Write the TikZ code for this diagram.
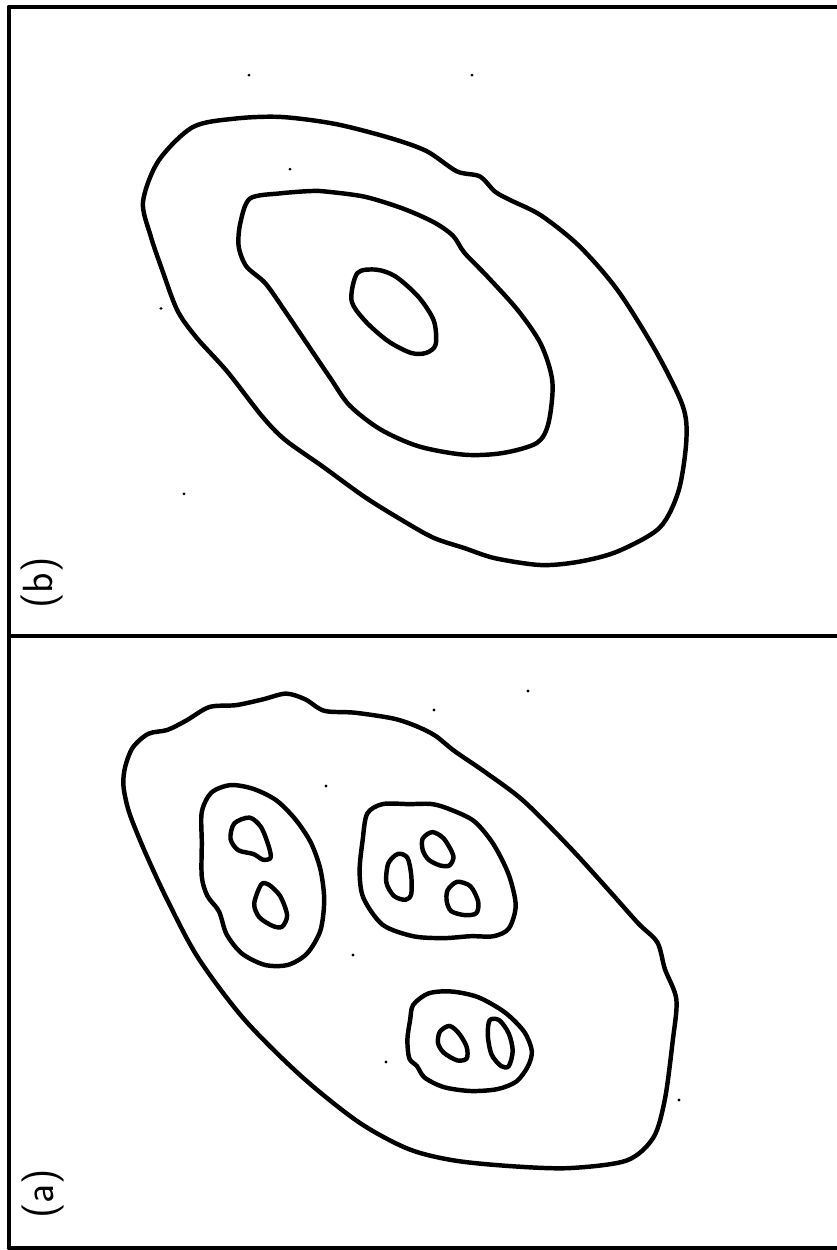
\documentclass[tikz,border=0pt]{standalone}
\begin{document}
\begin{tikzpicture}[x=0.03cm, y=-0.03cm,
    frameline/.style={line width=4.2pt, line join=round},
    contour/.style={line width=3.8pt, line join=round},
    speck/.style={fill=black},
    panellabel/.style={rotate=90, font=\fontsize{36}{36}\selectfont\sffamily}]

  \useasboundingbox (0,0) rectangle (837,1250);

  % ---- Frame and divider ----
  \draw[frameline] (837,7) -- (9,7) -- (9,1248) -- (837,1248);
  \draw[frameline] (9,636) -- (837,636);

  % ---- Panel labels ----
  \node[panellabel] (lblb) at (42,583) {(b)};
  \node[panellabel] (lbla) at (43,1194) {(a)};

  % ==== Panel (b) ====
  \begin{scope}[shift={(0,100)}, yscale=0.887, shift={(0,-100)}]
  % outer contour
  \draw[contour] plot[smooth cycle] coordinates {
    (143.0,214.8) (158.3,168.9) (192.7,130.6) (234.8,121.0) (280.7,119.1)
    (334.3,126.8) (387.9,142.1) (426.2,157.4) (456.8,180.4) (479.7,186.1)
    (495.0,203.3) (510.4,212.9) (541.0,230.1) (579.2,264.6) (617.5,314.3)
    (655.8,383.2) (682.6,444.4) (686.4,482.7) (678.7,540.1) (659.6,582.2)
    (617.5,609.0) (579.2,620.5) (541.0,624.3) (495.0,616.6) (464.4,605.2)
    (433.8,593.7) (403.2,574.5) (364.9,547.7) (322.8,513.3) (284.6,482.7)
    (261.6,455.9) (227.2,406.1) (196.5,367.9) (177.4,337.3) (162.1,291.3)
    (150.6,253.1)};

  % middle contour
  \draw[contour] plot[smooth cycle] coordinates {
    (250.1,211.0) (280.7,205.2) (311.4,202.6) (326.7,203.3) (364.9,209.1)
    (403.2,222.5) (433.8,237.8) (453.0,253.1) (464.4,272.2) (487.4,299.0)
    (518.0,337.3) (541.0,375.5) (552.4,417.6) (548.6,463.6) (537.1,486.5)
    (502.7,498.0) (464.4,499.9) (418.5,490.4) (380.2,471.2) (349.6,444.4)
    (330.5,413.8) (307.5,375.5) (284.6,337.3) (265.4,306.7) (246.3,287.5)
    (238.6,264.6) (240.5,237.8)};

  % inner contour
  \draw[contour] plot[smooth cycle] coordinates {
    (357.3,295.2) (376.4,291.3) (395.6,299.0) (418.5,322.0) (433.8,348.8)
    (435.7,375.5) (426.2,385.1) (410.9,385.1) (387.9,371.7) (364.9,348.8)
    (351.5,325.8)};

  % specks
  \foreach \p in {(249,72),(472,72),(290,178),(161,335),(184,544)}
    \fill[speck] \p circle (1.6);
  \end{scope}

  % ==== Panel (a) ====
  % outer contour
  \draw[contour] plot[smooth cycle] coordinates {
    (133.0,747.2) (148.3,733.8) (167.4,729.9) (186.5,720.4) (209.5,707.0)
    (236.3,705.1) (263.1,699.3) (286.0,693.6) (305.2,699.3) (324.3,710.8)
    (354.9,712.7) (393.2,718.5) (416.2,726.1) (435.3,735.7) (454.4,751.0)
    (485.0,772.0) (523.3,800.7) (569.2,846.7) (607.5,888.8) (638.1,923.2)
    (657.3,942.3) (664.9,969.1) (676.4,999.7) (672.6,1041.8) (664.9,1099.2)
    (653.4,1137.5) (626.6,1160.5) (569.2,1168.1) (511.8,1166.2) (454.4,1160.5)
    (408.5,1149.0) (358.8,1122.2) (301.4,1076.3) (243.9,1018.9) (198.0,957.6)
    (167.4,900.2) (144.4,850.5) (129.1,812.2) (123.4,785.4) (125.3,766.3)};

  % left island
  \begin{scope}[shift={(-2,-8)}]
  \draw[contour] plot[smooth cycle] coordinates {
    (213.3,800.7) (232.5,793.1) (255.4,796.9) (278.4,808.4) (297.5,827.5)
    (312.8,850.5) (322.4,877.3) (326.2,907.9) (322.4,938.5) (309.0,961.5)
    (289.9,972.9) (266.9,972.9) (243.9,961.5) (228.6,942.3) (221.0,919.4)
    (209.5,904.1) (203.8,884.9) (203.8,850.5) (203.8,819.9)};
  \draw[contour] plot[smooth cycle] coordinates {
    (236.3,831.4) (251.6,825.6) (263.1,835.2) (270.7,854.3) (272.6,865.8)
    (265.0,867.7) (255.4,862.0) (240.1,858.1) (232.5,846.7)};
  \draw[contour] plot[smooth cycle] coordinates {
    (263.1,892.6) (270.7,892.6) (282.2,904.1) (289.1,923.2) (284.1,934.7)
    (274.6,933.9) (261.2,925.1) (256.2,911.7)};
  \end{scope}

  % middle island
  \begin{scope}[shift={(-3,-10)}]
  \draw[contour] plot[smooth cycle] coordinates {
    (370.2,823.7) (385.6,814.1) (412.3,814.1) (435.3,814.1) (454.4,819.9)
    (477.4,831.4) (496.5,854.3) (511.8,884.9) (518.7,915.5) (511.8,938.5)
    (496.5,946.2) (473.6,946.2) (446.8,948.1) (416.2,946.2) (385.6,934.7)
    (366.4,907.9) (362.6,881.1) (365.6,850.5)};
  \draw[contour] plot[smooth cycle] coordinates {
    (391.3,873.4) (400.9,863.9) (410.4,867.7) (414.2,884.9) (414.2,904.1)
    (408.5,909.8) (397.0,906.0) (389.4,892.6)};
  \draw[contour] plot[smooth cycle] coordinates {
    (425.7,848.6) (435.3,842.1) (446.8,848.6) (456.3,865.8) (452.5,875.4)
    (442.9,875.4) (431.5,869.6) (425.7,860.0)};
  \draw[contour] plot[smooth cycle] coordinates {
    (450.6,900.2) (460.2,891.8) (473.6,896.4) (481.2,911.7) (479.3,923.2)
    (467.8,925.1) (454.4,921.3) (449.8,911.7)};
  \end{scope}

  % lower island
  \begin{scope}[shift={(-3,-14)}]
  \draw[contour] plot[smooth cycle] coordinates {
    (416.2,1018.9) (431.5,1007.4) (454.4,1005.5) (481.2,1011.2) (508.0,1026.5)
    (527.1,1045.7) (534.8,1064.8) (531.0,1080.1) (519.5,1095.4) (500.4,1103.1)
    (473.6,1105.0) (446.8,1101.1) (427.6,1091.6) (420.0,1080.1) (412.3,1072.4)
    (410.4,1053.3) (413.1,1034.2)};
  \draw[contour] plot[smooth cycle] coordinates {
    (442.9,1045.7) (452.5,1039.9) (462.1,1047.6) (469.7,1061.0) (469.7,1072.4)
    (460.2,1074.4) (446.8,1066.7) (441.0,1057.1)};
  \draw[contour] plot[smooth cycle] coordinates {
    (492.7,1034.2) (502.3,1034.2) (511.8,1047.6) (515.7,1064.8) (511.8,1080.1)
    (504.2,1080.1) (494.6,1068.6) (490.8,1049.5)};
  \end{scope}

  % specks
  \foreach \p in {(528,691),(434,710),(326,786),(353,955),(386,1062),(679,1100)}
    \fill[speck] \p circle (1.6);

\end{tikzpicture}
\end{document}
